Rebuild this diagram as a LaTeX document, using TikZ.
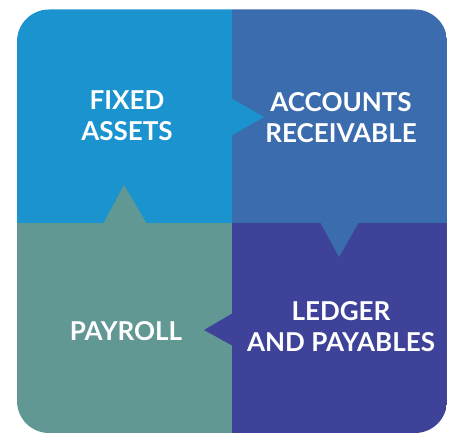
\documentclass[tikz,border=0pt]{standalone}
\usepackage{fontspec}
\setmainfont{Lato}
\tikzset{
  quadlabel/.style={text=white, font=\bfseries\fontsize{26}{31}\selectfont, align=center, inner sep=0pt},
}
\begin{document}
\begin{tikzpicture}[x=1pt,y=-1pt]
  % Define colors
  \definecolor{fixedcolor}{RGB}{26,147,207}
  \definecolor{accountscolor}{RGB}{58,108,174}
  \definecolor{ledgercolor}{RGB}{62,67,153}
  \definecolor{payrollcolor}{RGB}{98,152,148}

  \useasboundingbox (0,0) rectangle (452,435);

  % Quadrants
  \begin{scope}
    \clip[rounded corners=32pt] (17,9.5) rectangle (447,433);
    \fill[fixedcolor] (17,9.5) rectangle (232,223);
    \fill[accountscolor] (232,9.5) rectangle (447,223);
    \fill[payrollcolor] (17,223) rectangle (232,433);
    \fill[ledgercolor] (232,223) rectangle (447,433);
  \end{scope}

  % Pointers between quadrants
  \fill[fixedcolor] (231,98) -- (264,117) -- (231,136) -- cycle;
  \fill[accountscolor] (320,222) -- (339,257) -- (359,222) -- cycle;
  \fill[ledgercolor] (233,313) -- (204,330) -- (233,346) -- cycle;
  \fill[payrollcolor] (103,224) -- (124,185) -- (147,224) -- cycle;

  % Labels
  \node[quadlabel] (fixed) at (127,116) {FIXED\\ASSETS};
  \node[quadlabel] (accounts) at (341,118) {ACCOUNTS\\RECEIVABLE};
  \node[quadlabel] (ledger) at (341,327) {LEDGER\\AND PAYABLES};
  \node[quadlabel] (payroll) at (126,331) {PAYROLL};
\end{tikzpicture}
\end{document}
